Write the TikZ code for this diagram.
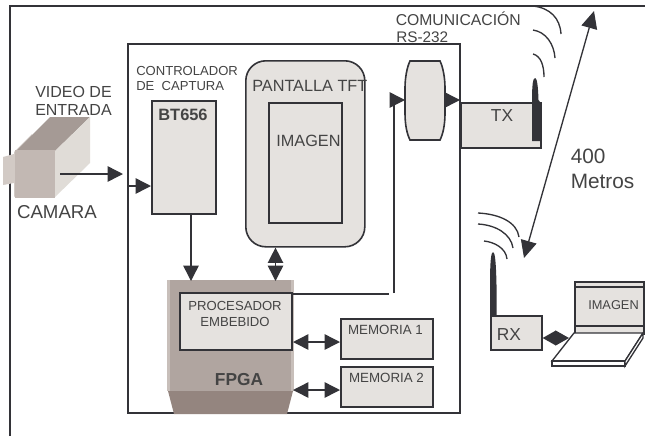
\documentclass[tikz,border=0pt]{standalone}
\usepackage{fontspec}
\setmainfont{Liberation Sans}
\usetikzlibrary{arrows.meta,positioning}
\definecolor{ink}{HTML}{333338}
\definecolor{boxfill}{HTML}{E5E2DF}
\definecolor{txt}{HTML}{444444}
\definecolor{fpgaA}{HTML}{B0A5A0}
\definecolor{fpgaB}{HTML}{C8BFBA}
\definecolor{fpgaC}{HTML}{94857F}
\definecolor{camA}{HTML}{C2B8B3}
\definecolor{camB}{HTML}{E0DCD7}
\definecolor{camC}{HTML}{A59A95}
\definecolor{camD}{HTML}{D2CAC5}
\tikzset{
  x=0.75pt,y=-0.75pt,
  frame/.style={draw=ink,line width=1.1pt},
  blockbox/.style={draw=ink,line width=1.2pt,fill=boxfill,inner sep=0pt},
  lbl/.style={text=txt,font=\fontsize{#1}{#1}\selectfont,inner sep=0pt,align=center},
  lbl/.default=10.5,
  conn/.style={draw=ink,line width=1.1pt},
  tip/.style={-{Triangle[length=11.5pt,width=11.5pt]}},
  dbl/.style={{Triangle[length=11.5pt,width=11.5pt]}-{Triangle[length=11.5pt,width=11.5pt]}},
  wave/.style={draw=ink,line width=1pt},
}
\newcommand{\rectnode}[5]{\node[blockbox,anchor=north west,minimum width=#4*0.75pt,minimum height=#5*0.75pt] (#1) at (#2,#3) {};}
\begin{document}
\begin{tikzpicture}
\useasboundingbox (0,0) rectangle (645,436);
\fill[white] (0,0) rectangle (645,436);
% outer frame
\draw[frame] (10,436) -- (10,6) -- (645,6);
% inner board
\draw[frame] (128,44) rectangle (460,413);
% camera
\fill[camD] (3,157) -- (14,154) -- (14,183) -- (3,185) -- cycle;
\fill[camD] (14,152) -- (32,134) -- (32,180) -- (14,197) -- cycle;
\fill[camC] (17,150) -- (50,117) -- (90,117) -- (55,151) -- cycle;
\fill[camB] (55,151) -- (90,117) -- (90,163) -- (55,197) -- cycle;
\fill[camA] (15,150) rectangle (55,198);
\coordinate (camout) at (60,174);
\coordinate (boardin) at (123,174);
\draw[conn,tip] (camout) -- (boardin);
\node[lbl=14] (cam) at (57,212) {CAMARA};
\node[lbl=12] (video) at (73.5,100.5) {VIDEO DE\\[1.5pt]ENTRADA};
% BT656
\rectnode{bt}{151}{100}{64}{113}
\node[font=\bfseries\fontsize{12.3}{12.3}\selectfont,text=txt,inner sep=0pt] (btl) at (183,115) {BT656};
\node[lbl=9.8,anchor=north west,align=left] (ctrl) at (136,66.5) {CONTROLADOR\\[1.5pt]DE\ \ CAPTURA};
\coordinate (btin) at (128,186);
\draw[conn,tip] (btin) -- (bt.west |- btin);
% TFT
\node[blockbox,rounded corners=15pt,anchor=north west,minimum width=119*0.75pt,minimum height=186*0.75pt] (tft) at (245,60) {};
\rectnode{img}{268}{102}{73}{120}
\node[lbl=12.2,anchor=west] (tftl) at (252,86) {PANTALLA TFT};
\node[lbl=12.2] (imgl) at (308.5,141) {IMAGEN};
% FPGA
\fill[fpgaB] (167,280) rectangle (294,391);
\fill[fpgaA] (170,280) rectangle (291,391);
\fill[fpgaC] (168,391) -- (293,391) -- (287,414) -- (174,414) -- cycle;
\coordinate (fpgatopA) at (191,281);
\coordinate (fpgatopB) at (275.5,281);
\coordinate (fpgaM) at (293,342);
\coordinate (fpgaN) at (293,390);
\rectnode{proc}{179}{292}{112}{57}
\node[lbl=9.85] (procl) at (235,314) {PROCESADOR\\[1.5pt]EMBEBIDO};
\node[font=\bfseries\fontsize{13}{13}\selectfont,text=txt,inner sep=0pt] (fpgal) at (239,380) {FPGA};
% memories
\rectnode{m1}{340}{318}{92}{40}
\rectnode{m2}{340}{366}{92}{40}
\node[lbl=10] (m1l) at (385.5,330) {MEMORIA 1};
\node[lbl=10] (m2l) at (386.5,378) {MEMORIA 2};
\draw[conn,dbl] (fpgaM) -- (m1.west |- fpgaM);
\draw[conn,dbl] (fpgaN) -- (m2.west |- fpgaN);
\draw[conn,tip] (fpgatopA |- bt.south) -- (fpgatopA);
\draw[conn,dbl] (fpgatopB |- tft.south) -- (fpgatopB);
% RS-232 connector (barrel)
\draw[draw=ink,line width=1.2pt,fill=boxfill] (410,61) -- (440,61) .. controls (443,67) and (445,78) .. (445,88) -- (445,113) .. controls (445,125) and (443,134) .. (440,140) -- (410,140) .. controls (407,134) and (405,125) .. (405,113) -- (405,88) .. controls (405,78) and (407,67) .. (410,61) -- cycle;
\coordinate (rsW) at (405,100);
\coordinate (rsE) at (445,100);
\coordinate (bus) at (389,294);
\coordinate (busup) at (394,293);
\coordinate (up) at (394,100);
\draw[conn] (proc.north east |- bus) -- (bus);
\draw[conn,tip] (busup) -- (up) -- (rsW);
\coordinate (rsout) at (460,100);
\draw[conn,tip] (rsE) -- (rsout);
\node[lbl=11.8,anchor=west] (com) at (395.5,18.5) {COMUNICACIÓN};
\node[lbl=11.5,anchor=west] (rsl) at (396,37.5) {RS-232};
% TX
\node[blockbox,anchor=north west,minimum width=80*0.75pt,minimum height=45*0.75pt] (tx) at (460,102) {};
\node[lbl=13] (txl) at (502,116) {TX};
\fill[ink] (532,141) -- (532,100) .. controls (532,85) and (533,78) .. (535,78) .. controls (537,78) and (538,85) .. (538.5,100) -- (540,102) -- (540,141) -- cycle;
\draw[wave] (533,6) .. controls (550,8) and (560,18) .. (561,34);
\draw[wave] (533,30) .. controls (546,32) and (554,44) .. (555,58);
\draw[wave] (533,54) .. controls (541,56) and (544,66) .. (544,77);
% distance
\coordinate (far) at (594,11);
\coordinate (near) at (524,258);
\draw[conn,line width=1pt,{Triangle[length=13pt,width=12pt]}-{Triangle[length=13pt,width=12pt]}] (far) -- (near);
\node[lbl=15.6,anchor=west,align=left] (dist) at (570.5,169) {400\\[3pt]Metros};
% RX
\node[blockbox,anchor=north west,minimum width=51*0.75pt,minimum height=34*0.75pt] (rx) at (490,315) {};
\node[lbl=13] (rxl) at (509,335) {RX};
\fill[ink] (490,315) -- (490,285) .. controls (490,262) and (491,252) .. (493,252) .. controls (495,252) and (496,262) .. (496.5,285) -- (496.5,315) -- cycle;
\draw[wave] (478,213) .. controls (499,214) and (517,222) .. (519,237);
\draw[wave] (478,224) .. controls (496,225) and (511,234) .. (513,248);
\draw[wave] (484,241) .. controls (494,242) and (506,248) .. (507,259);
% laptop
\node[blockbox,anchor=north west,minimum width=69*0.75pt,minimum height=52*0.75pt] (lid) at (574,281) {};
\draw[conn,line width=0.9pt] (574,287) -- (643,287);
\draw[conn,line width=0.9pt] (574,326) -- (643,326);
\node[lbl=9.6] (lidl) at (613.5,305) {IMAGEN};
\draw[draw=ink,line width=1pt,fill=white] (574,333) -- (643,333) -- (625,361) -- (552,361) -- cycle;
\draw[draw=ink,line width=1pt,fill=white] (552,361) -- (625,361) -- (625,366) -- (552,366) -- cycle;
\draw[draw=ink,line width=1pt,fill=white] (625,361) -- (643,333) -- (643,338) -- (625,366) -- cycle;
\coordinate (lapin) at (569,338);
\draw[conn,{Triangle[length=10pt,width=11pt]}-{Triangle[length=10pt,width=11pt]}] (rx.east |- lapin) -- (lapin);
\end{tikzpicture}
\end{document}
